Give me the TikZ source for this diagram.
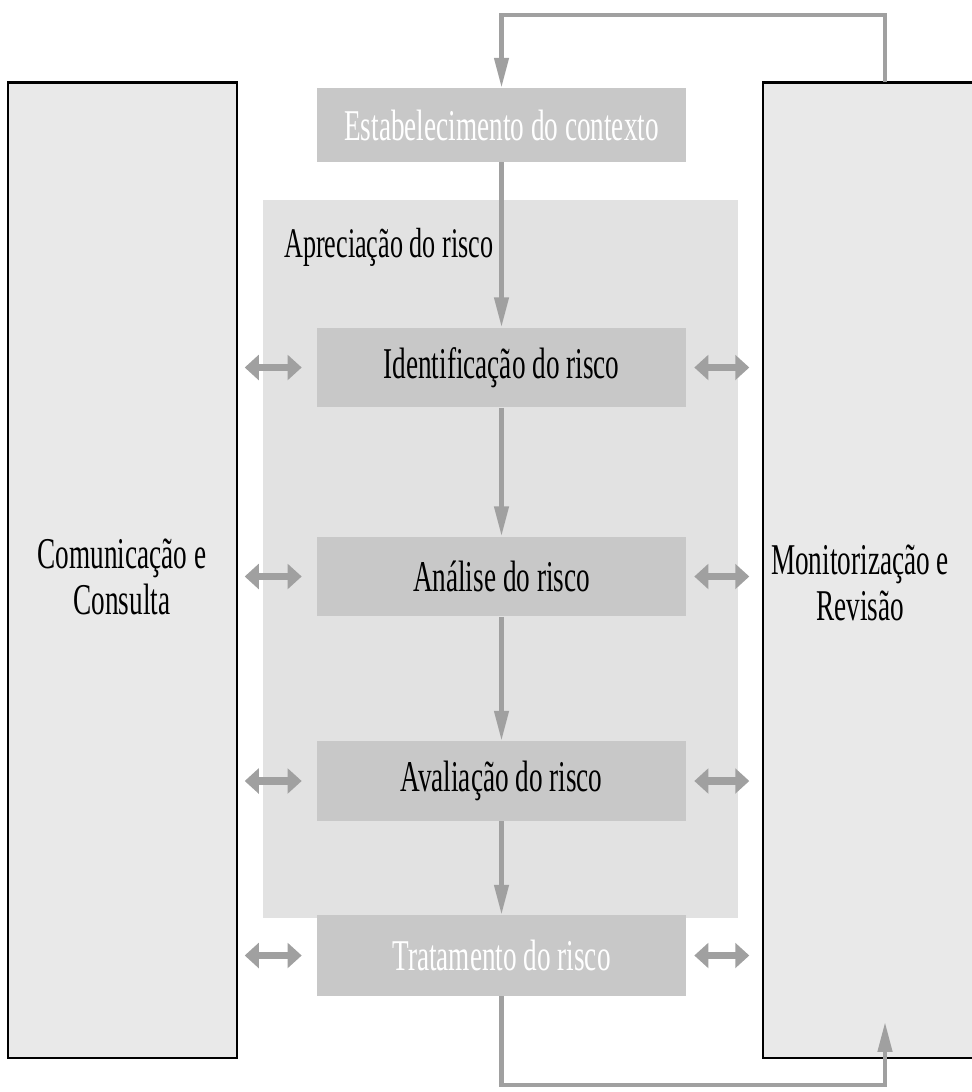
\documentclass[tikz,border=0pt]{standalone}
\usepackage{fontspec}
\setmainfont{Liberation Serif}[FakeStretch=0.62]
\usetikzlibrary{arrows.meta,positioning,calc}
\definecolor{flowgray}{RGB}{160,160,160}
\definecolor{stepgray}{RGB}{200,200,200}
\definecolor{assessgray}{RGB}{226,226,226}
\definecolor{panelgray}{RGB}{233,233,233}
\tikzset{
  panel/.style={draw=black,line width=1.6pt,fill=panelgray,minimum width=4.58cm,minimum height=19.52cm,inner sep=0pt},
  stepbox/.style={fill=stepgray,minimum width=7.38cm,minimum height=1.6cm,inner sep=0pt,text=black},
  flow/.style={draw=flowgray,line width=2.4pt,-{Triangle[length=17pt,width=8pt]}},
  talk/.style={draw=flowgray,line width=4pt,{Triangle[length=8pt,width=14pt]}-{Triangle[length=8pt,width=14pt]}}
}
\begin{document}
\begin{tikzpicture}[x=0.02cm,y=-0.02cm,line join=miter,font=\fontsize{25}{26}\selectfont]
  \useasboundingbox (0,0) rectangle (971,1092);
  % side panels
  \node[panel] (com) at (122.5,570) {};
  \node[align=center] (comtext) at (122,577) {Comunicação e\\Consulta};
  \node[panel,minimum width=4.6cm] (mon) at (878,570) {};
  \node[align=center] (montext) at (860,583) {Monitorização e\\Revisão};
  % risk assessment area
  \node[fill=assessgray,minimum width=9.5cm,minimum height=14.36cm,inner sep=0pt] (apr) at (500.5,559) {};
  \node[anchor=west,font=\fontsize{24}{26}\selectfont] (aprtext) at (278,247) {Apreciação do risco};
  % process steps
  \node[stepbox,minimum height=1.48cm,text=white] (ctx) at (501.5,125) {Estabelecimento do contexto};
  \node[stepbox] (ident) at (501.5,367.5) {Identificação do risco};
  \node[stepbox] (anal) at (501.5,576.5) {Análise do risco};
  \node[stepbox] (aval) at (501.5,781) {Avaliação do risco};
  \node[stepbox,minimum height=1.62cm,text=white] (trat) at (501.5,955.5) {Tratamento do risco};
  \coordinate (loopstart) at (885,82);
  \coordinate (loopend) at (885,1022);
  % flow
  \draw[flow] (loopstart) -- ++(0,-67) -| (ctx.north);
  \draw[flow] (ctx) -- (ident);
  \draw[flow] (ident) -- (anal);
  \draw[flow] (anal) -- (aval);
  \draw[flow] (aval) -- (trat);
  \draw[flow] (trat.south) -- ++(0,89) -| (loopend);
  \foreach \s in {ident,anal,aval,trat}{
    \draw[talk] ([xshift=-1.44cm]\s.west) -- ([xshift=-0.3cm]\s.west);
    \draw[talk] ([xshift=0.16cm]\s.east) -- ([xshift=1.26cm]\s.east);
  }
\end{tikzpicture}
\end{document}
